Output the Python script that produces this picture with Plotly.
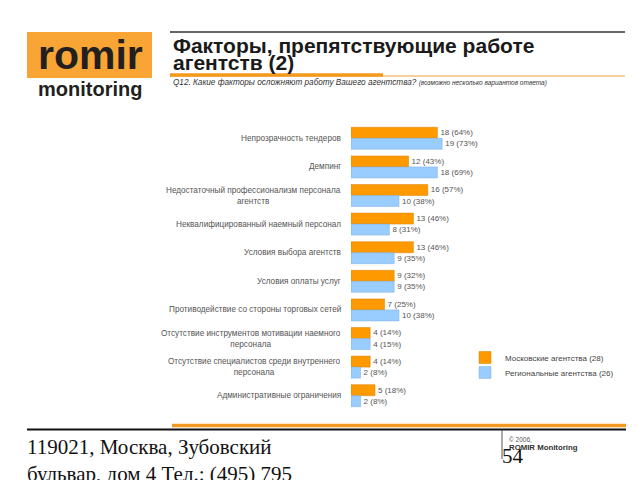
import plotly.graph_objects as go

categories = [
    "Непрозрачность тендеров",
    "Демпинг",
    "Недостаточный профессионализм персонала<br>агентств",
    "Неквалифицированный наемный персонал",
    "Условия выбора агентств",
    "Условия оплаты услуг",
    "Противодействие со стороны торговых сетей",
    "Отсутствие инструментов мотивации наемного<br>персонала",
    "Отсутствие специалистов среди внутреннего<br>персонала",
    "Административные ограничения",
]
moscow_values = [18, 12, 16, 13, 13, 9, 7, 4, 4, 5]
moscow_pct = [64, 43, 57, 46, 46, 32, 25, 14, 14, 18]
regional_values = [19, 18, 10, 8, 9, 9, 10, 4, 2, 2]
regional_pct = [73, 69, 38, 31, 35, 35, 38, 15, 8, 8]
series_names = ["Московские агентства (28)", "Региональные агентства (26)"]

W_PX, H_PX = 640, 480
OFF = 8  # page body margin
L, T, B = 343, 116, 78
PW = 144
R = W_PX - L - PW
PH = H_PX - T - B


def px(x):
    """screen x -> paper x"""
    return (x - OFF - L) / PW


def py(y):
    """screen y -> paper y"""
    return (H_PX - B - (y - OFF)) / PH


FONT = "Liberation Sans, Arial, sans-serif"
SERIF = "Liberation Serif, Times New Roman, serif"
ORANGE = "#FF9900"
BLUE = "#99CCFF"

fig = go.Figure()
fig.add_trace(go.Bar(
    y=categories, x=moscow_values, orientation="h", name=series_names[0],
    marker=dict(color=ORANGE, line=dict(color="#D98200", width=0.5)),
    text=[f"{v} ({p}%)" for v, p in zip(moscow_values, moscow_pct)],
    textposition="outside", cliponaxis=False,
    textfont=dict(size=8, color="#555555", family=FONT),
    legend="legend",
))
fig.add_trace(go.Bar(
    y=categories, x=regional_values, orientation="h", name=series_names[1],
    marker=dict(color=BLUE, line=dict(color="#7FAFDF", width=0.5)),
    text=[f"{v} ({p}%)" for v, p in zip(regional_values, regional_pct)],
    textposition="outside", cliponaxis=False,
    textfont=dict(size=8, color="#555555", family=FONT),
    legend="legend2",
))

annotations = []
for c in categories:
    annotations.append(dict(
        x=0, xref="paper", y=c, yref="y", xanchor="right", yanchor="middle",
        xshift=-8, text=c, showarrow=False, align="center",
        font=dict(size=8.2, color="#555555", family=FONT),
    ))


def note(x, y, text, size, color="#1A1A1A", family=FONT, xanchor="left", yanchor="middle"):
    annotations.append(dict(x=px(x), y=py(y), xref="paper", yref="paper",
                            text=text, showarrow=False, align="left",
                            font=dict(size=size, color=color, family=family),
                            xanchor=xanchor, yanchor=yanchor))


# logo
note(90, 55, "<b>romir</b>", 41, "#231F20", xanchor="center")
note(90, 89, "<b>monitoring</b>", 20, "#231F20", xanchor="center")
# title
note(171, 45.5, "<b>Факторы, препятствующие работе</b>", 21)
note(171, 62.5, "<b>агентств (2)</b>", 21)
note(171, 82, "<i>Q12. Какие факторы осложняют работу Вашего агентства? "
              "<span style='font-size:6.5px'>(возможно несколько вариантов ответа)</span></i>",
     8.2, "#333333")
# footer
note(25, 447, "119021, Москва, Зубовский", 21, "#111111", SERIF)
note(25, 474, "бульвар, дом 4 Тел.: (495) 795", 21, "#111111", SERIF)
note(500, 456, "54", 21, "#111111", SERIF)
note(507, 439, "© 2006,", 6.5, "#555555")
note(507, 447, "<b>ROMIR Monitoring</b>", 7.8, "#333333")

shapes = [
    dict(type="rect", xref="paper", yref="paper", x0=px(27), x1=px(152),
         y0=py(78), y1=py(32), fillcolor="#F8A535", line=dict(width=0), layer="below"),
    dict(type="line", xref="paper", yref="paper", x0=px(170), x1=px(625),
         y0=py(32), y1=py(32), line=dict(color="#333333", width=1.5)),
    dict(type="line", xref="paper", yref="paper", x0=px(170), x1=px(625),
         y0=py(76), y1=py(76), line=dict(color="#F3A23A", width=1)),
    dict(type="line", xref="paper", yref="paper", x0=px(170), x1=px(383),
         y0=py(75), y1=py(75), line=dict(color="#F39A1E", width=3.5)),
    dict(type="line", xref="paper", yref="paper", x0=px(172), x1=px(626),
         y0=py(425.5), y1=py(425.5), line=dict(color="#F39A1E", width=3.5)),
    dict(type="line", xref="paper", yref="paper", x0=px(27), x1=px(626),
         y0=py(429.5), y1=py(429.5), line=dict(color="#111111", width=2)),
    dict(type="line", xref="paper", yref="paper", x0=px(502), x1=px(502),
         y0=py(430), y1=py(459), line=dict(color="#555555", width=1)),
]

legend_style = dict(xanchor="left", yanchor="top",
                    font=dict(size=8, color="#444444", family=FONT),
                    bgcolor="rgba(0,0,0,0)", itemwidth=30)

fig.update_layout(
    width=W_PX, height=H_PX,
    margin=dict(l=L, r=R, t=T, b=B),
    paper_bgcolor="white", plot_bgcolor="white",
    barmode="group", bargap=0.23, bargroupgap=0,
    font=dict(family=FONT, color="#555555"),
    showlegend=True,
    legend=dict(x=px(465), y=py(343), **legend_style),
    legend2=dict(x=px(465), y=py(358), **legend_style),
    annotations=annotations,
    shapes=shapes,
)
fig.update_traces(constraintext="none")
fig.update_xaxes(range=[0, 30], visible=False, fixedrange=True)
fig.update_yaxes(autorange="reversed", showticklabels=False, showgrid=False,
                 zeroline=False, showline=False, ticks="", fixedrange=True)

fig.write_html("out.html")
